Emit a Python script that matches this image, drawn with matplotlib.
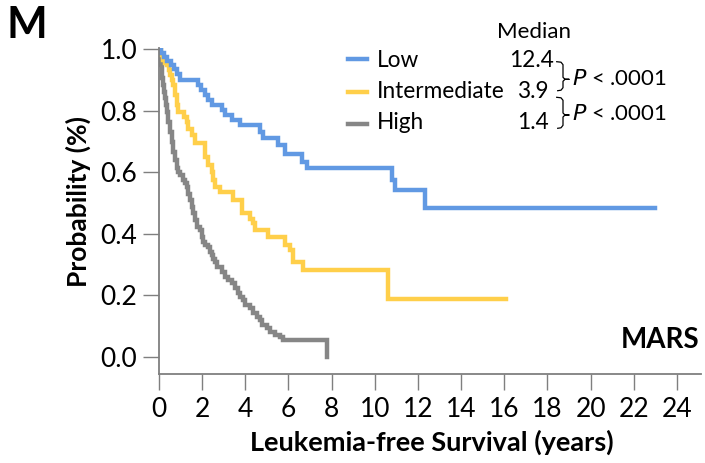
import numpy as np
import matplotlib
matplotlib.use("Agg")
import matplotlib.pyplot as plt

plt.rcParams['font.family'] = ['Lato', 'DejaVu Sans']

# Kaplan-Meier steps (years, survival probability) per MARS risk group
low_t = [0, 0.1, 0.25, 0.4, 0.55, 0.7, 0.85, 0.98, 1.83, 1.94, 2.14, 2.29, 2.45, 2.91,
         3.06, 3.37, 3.76, 4.69, 4.81, 5.53, 5.84, 6.61, 6.85, 10.79, 10.94, 12.33, 23.0]
low_p = [1.0, 0.987, 0.974, 0.961, 0.948, 0.935, 0.918, 0.899, 0.883, 0.867, 0.851, 0.834,
         0.818, 0.802, 0.786, 0.769, 0.753, 0.732, 0.710, 0.688, 0.661, 0.634, 0.613,
         0.575, 0.542, 0.485, 0.485]

mid_t = [0, 0.1, 0.21, 0.29, 0.37, 0.45, 0.52, 0.6, 0.67, 0.75, 0.83, 0.9, 1.15, 1.29,
         1.37, 1.52, 1.68, 2.14, 2.29, 2.45, 2.52, 2.6, 2.83, 3.45, 3.84, 4.22, 4.38,
         4.45, 5.07, 5.84, 6.07, 6.23, 6.69, 10.62, 16.07]
mid_p = [1.0, 0.98, 0.964, 0.956, 0.948, 0.932, 0.916, 0.9, 0.883, 0.851, 0.818, 0.797,
         0.78, 0.762, 0.742, 0.721, 0.694, 0.65, 0.623, 0.6, 0.575, 0.553, 0.537, 0.51,
         0.467, 0.45, 0.434, 0.412, 0.391, 0.364, 0.347, 0.31, 0.282, 0.19, 0.19]

high_t = [0, 0.03, 0.06, 0.1, 0.13, 0.17, 0.21, 0.25, 0.29, 0.33, 0.37, 0.44, 0.52, 0.6,
          0.67, 0.75, 0.83, 0.9, 1.0, 1.13, 1.21, 1.29, 1.37, 1.44, 1.52, 1.6, 1.68, 1.75,
          1.91, 1.99, 2.06, 2.14, 2.29, 2.37, 2.45, 2.52, 2.6, 2.68, 2.91, 3.06, 3.22,
          3.37, 3.53, 3.68, 3.76, 3.91, 3.99, 4.22, 4.38, 4.53, 4.69, 4.76, 5.0, 5.15,
          5.38, 5.61, 5.76, 7.8]
high_p = [1.0, 0.985, 0.97, 0.95, 0.926, 0.905, 0.883, 0.862, 0.84, 0.82, 0.797, 0.764,
          0.731, 0.699, 0.667, 0.64, 0.613, 0.6, 0.591, 0.575, 0.564, 0.553, 0.531, 0.51,
          0.488, 0.467, 0.445, 0.423, 0.412, 0.391, 0.374, 0.364, 0.358, 0.342, 0.331,
          0.32, 0.31, 0.293, 0.277, 0.26, 0.25, 0.239, 0.223, 0.207, 0.196, 0.185, 0.169,
          0.158, 0.142, 0.131, 0.12, 0.104, 0.093, 0.082, 0.071, 0.066, 0.055, 0.0]

groups = ['Low', 'Intermediate', 'High']
medians = ['12.4', '3.9', '1.4']
colors = ['#6199E3', '#FFCF4A', '#868686']

W, H = 705, 463
fig = plt.figure(figsize=(W / 100, H / 100), dpi=100)
ax = fig.add_axes([158.8 / W, 1 - 374 / H, 541.9 / W, 325.7 / H])

def px(x, y):  # pixel position -> figure fraction
    return x / W, 1 - y / H

for t, p, c in [(high_t, high_p, colors[2]), (mid_t, mid_p, colors[1]), (low_t, low_p, colors[0])]:
    ax.step(t, p, where='post', color=c, lw=3.2, solid_joinstyle='miter')

ax.set_xlim(0, 25.1)
ax.set_ylim(-0.055, 1.003)
ax.set_xticks(np.arange(0, 25, 2))
ax.set_yticks(np.arange(0, 1.01, 0.2))
ax.set_yticklabels(['%.1f' % v for v in np.arange(0, 1.01, 0.2)])
for s in ['top', 'right']:
    ax.spines[s].set_visible(False)
for s in ['left', 'bottom']:
    ax.spines[s].set_color('#7f7f7f')
    ax.spines[s].set_linewidth(1.3)
ax.tick_params(direction='out', length=11.5, width=1.0, color='#7f7f7f',
               labelsize=19, pad=4)
ax.tick_params(axis='x', pad=5)

fig.text(*px(78, 201.5), 'Probability (%)', rotation=90, ha='center', va='center',
         fontsize=19, fontweight='bold')
fig.text(*px(432, 442), 'Leukemia-free Survival (years)', ha='center', va='center',
         fontsize=19.5, fontweight='bold')
fig.text(*px(6, 37.5), 'M', fontsize=31, fontweight='bold', ha='left', va='baseline')
fig.text(*px(699, 348), 'MARS', fontsize=20, fontweight='bold', ha='right', va='baseline')

# legend with medians
fig.text(*px(534, 38.3), 'Median', ha='center', va='baseline', fontsize=16)
hy = [59.3, 91.7, 124]
base = [66.7, 98.3, 129.3]
num_x = [554, 548.5, 548.5]
for i in range(3):
    x0, y0 = px(348.3, hy[i])
    x1, _ = px(366.7, hy[i])
    fig.add_artist(plt.Line2D([x0, x1], [y0, y0], color=colors[i], lw=3.2,
                              transform=fig.transFigure))
    fig.text(*px(376.7, base[i]), groups[i], ha='left', va='baseline', fontsize=16.3)
    fig.text(*px(num_x[i], base[i]), medians[i], ha='right', va='baseline', fontsize=16.3)

# brackets joining the compared groups
for top, mid, bot, tb in [(61.7, 79.3, 90.7, 85), (97.3, 115, 128.3, 120)]:
    bx = [556.7, 561, 563, 563, 565, 569, 565, 563, 563, 561, 557.7]
    by = [top, top + 0.5, top + 3, mid - 2, mid, mid, mid, mid + 2, bot - 3, bot - 0.5, bot]
    pts = [px(a, b) for a, b in zip(bx, by)]
    fig.add_artist(plt.Line2D([q[0] for q in pts], [q[1] for q in pts], color='black',
                              lw=0.9, transform=fig.transFigure))
    fig.text(*px(571.7, tb), r'$\it{P}$' + ' < .0001', ha='left', va='baseline',
             fontsize=16)

fig.savefig('out.png', dpi=100)
